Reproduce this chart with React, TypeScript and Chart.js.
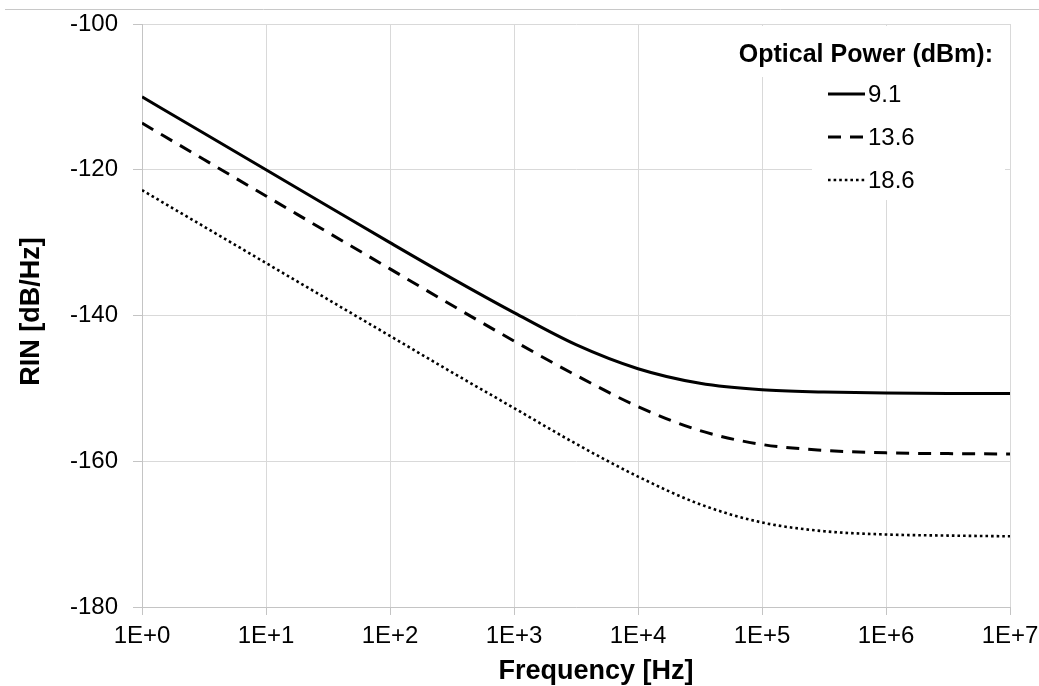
import React, { useEffect, useRef } from "react";
import { Chart, registerables } from "chart.js";

Chart.register(...registerables);

// ---- Data ----
const freqHz = [1, 3.16, 10, 31.6, 100, 316, 1000, 3160, 10000, 31600, 100000, 316000, 1000000, 3160000, 10000000];
const rin9p1 = [-110.0, -115.0, -120.0, -125.0, -130.0, -134.9, -139.6, -144.0, -147.3, -149.3, -150.2, -150.5, -150.65, -150.7, -150.7];
const rin13p6 = [-113.6, -118.6, -123.6, -128.6, -133.6, -138.6, -143.5, -148.2, -152.5, -155.8, -157.7, -158.5, -158.85, -158.95, -159.0];
const rin18p6 = [-122.8, -127.8, -132.8, -137.8, -142.8, -147.8, -152.7, -157.6, -162.1, -165.9, -168.4, -169.6, -170.05, -170.2, -170.3];
const seriesLabels = ["9.1", "13.6", "18.6"];
const xTickValues = [1, 10, 100, 1000, 10000, 100000, 1000000, 10000000];
const yTickValues = [-180, -160, -140, -120, -100];
const legendTitle = "Optical Power (dBm):";
const xTitle = "Frequency [Hz]";
const yTitle = "RIN [dB/Hz]";

const FONT = "'Liberation Sans', Arial, Helvetica, sans-serif";

const toPoints = (ys: number[]) => freqHz.map((f, i) => ({ x: f, y: ys[i] }));

const decorPlugin = {
  id: "decor",
  beforeDraw(chart: any) {
    const ctx = chart.ctx;
    ctx.save();
    ctx.fillStyle = "#ffffff";
    ctx.fillRect(0, 0, chart.width, chart.height);
    ctx.strokeStyle = "#c8c8c8";
    ctx.lineWidth = 1;
    ctx.beginPath();
    ctx.moveTo(5, 9.5);
    ctx.lineTo(chart.width, 9.5);
    ctx.stroke();
    ctx.restore();
  },
  beforeDatasetsDraw(chart: any) {
    const ctx = chart.ctx;
    const a = chart.chartArea;
    ctx.save();
    ctx.fillStyle = "#ffffff";
    // legend title box and legend items box (cover gridlines like the original)
    ctx.fillRect(a.right - 282, a.top + 2, 277, 51);
    ctx.fillRect(a.right - 198, a.top + 46, 193, 130);
    ctx.restore();
  },
  afterDraw(chart: any) {
    const ctx = chart.ctx;
    const a = chart.chartArea;
    ctx.save();
    ctx.fillStyle = "#000000";
    // axis titles
    ctx.font = `bold 27px ${FONT}`;
    ctx.textAlign = "center";
    ctx.textBaseline = "alphabetic";
    ctx.fillText(xTitle, (a.left + a.right) / 2 + 20, 679);
    ctx.save();
    ctx.translate(39, (a.top + a.bottom) / 2 - 4);
    ctx.rotate(-Math.PI / 2);
    ctx.fillText(yTitle, 0, 0);
    ctx.restore();

    // legend
    ctx.font = `bold 25px ${FONT}`;
    ctx.textAlign = "right";
    ctx.fillText(legendTitle, a.right - 17, a.top + 38);
    ctx.font = `24px ${FONT}`;
    ctx.textAlign = "left";
    const sx0 = a.right - 182;
    const sx1 = a.right - 145;
    chart.data.datasets.forEach((ds: any, i: number) => {
      const cy = a.top + 70 + i * 43;
      ctx.save();
      ctx.strokeStyle = ds.borderColor;
      ctx.lineWidth = ds.borderWidth;
      ctx.setLineDash(ds.borderDash || []);
      ctx.beginPath();
      ctx.moveTo(sx0, cy);
      ctx.lineTo(sx1, cy);
      ctx.stroke();
      ctx.restore();
      ctx.fillText(ds.label, sx1 + 3, cy + 8);
    });
    ctx.restore();
  },
};

export default function App() {
  const canvasRef = useRef<HTMLCanvasElement | null>(null);

  useEffect(() => {
    const canvas = canvasRef.current;
    if (!canvas) return;
    const chart = new Chart(canvas, {
      type: "line",
      data: {
        datasets: [
          {
            label: seriesLabels[0],
            data: toPoints(rin9p1),
            borderColor: "#000000",
            borderWidth: 3,
            borderDash: [],
            pointRadius: 0,
            cubicInterpolationMode: "monotone",
            fill: false,
          },
          {
            label: seriesLabels[1],
            data: toPoints(rin13p6),
            borderColor: "#000000",
            borderWidth: 3,
            borderDash: [13, 9],
            pointRadius: 0,
            cubicInterpolationMode: "monotone",
            fill: false,
          },
          {
            label: seriesLabels[2],
            data: toPoints(rin18p6),
            borderColor: "#000000",
            borderWidth: 2.6,
            borderDash: [2.6, 3],
            pointRadius: 0,
            cubicInterpolationMode: "monotone",
            fill: false,
          },
        ],
      },
      options: {
        responsive: false,
        devicePixelRatio: 1,
        animation: false,
        layout: { padding: { top: 24, right: 29, bottom: 0, left: 0 } },
        plugins: {
          legend: { display: false },
          tooltip: { enabled: false },
          title: { display: false },
        },
        scales: {
          x: {
            type: "logarithmic",
            min: 1,
            max: 10000000,
            afterBuildTicks: (scale: any) => {
              scale.ticks = xTickValues.map((v) => ({ value: v }));
            },
            afterFit: (scale: any) => {
              scale.height = 79;
              scale.paddingLeft = 0;
              scale.paddingRight = 0;
            },
            ticks: {
              autoSkip: false,
              maxRotation: 0,
              minRotation: 0,
              padding: 7,
              color: "#000000",
              font: { family: FONT, size: 24 },
              callback: (v: any) => "1E+" + Math.round(Math.log10(Number(v))),
            },
            grid: { color: "#d9d9d9", tickColor: "#c4c4c4", tickLength: 8, lineWidth: 1 },
            border: { color: "#c4c4c4", width: 1 },
            title: { display: false },
          },
          y: {
            type: "linear",
            min: -180,
            max: -100,
            afterBuildTicks: (scale: any) => {
              scale.ticks = yTickValues.map((v) => ({ value: v }));
            },
            afterFit: (scale: any) => {
              scale.width = 142;
              scale.paddingTop = 0;
              scale.paddingBottom = 0;
            },
            ticks: {
              padding: 15,
              color: "#000000",
              font: { family: FONT, size: 24 },
              callback: (v: any) => String(v),
            },
            grid: { color: "#d9d9d9", tickColor: "#c4c4c4", tickLength: 9, lineWidth: 1 },
            border: { color: "#c4c4c4", width: 1 },
            title: { display: false },
          },
        },
      },
      plugins: [decorPlugin],
    } as any);
    return () => chart.destroy();
  }, []);

  return (
    <div style={{ position: "absolute", left: 0, top: 0, width: 1039, height: 686, background: "#fff" }}>
      <canvas ref={canvasRef} width={1039} height={686} style={{ display: "block", width: 1039, height: 686 }} />
    </div>
  );
}
